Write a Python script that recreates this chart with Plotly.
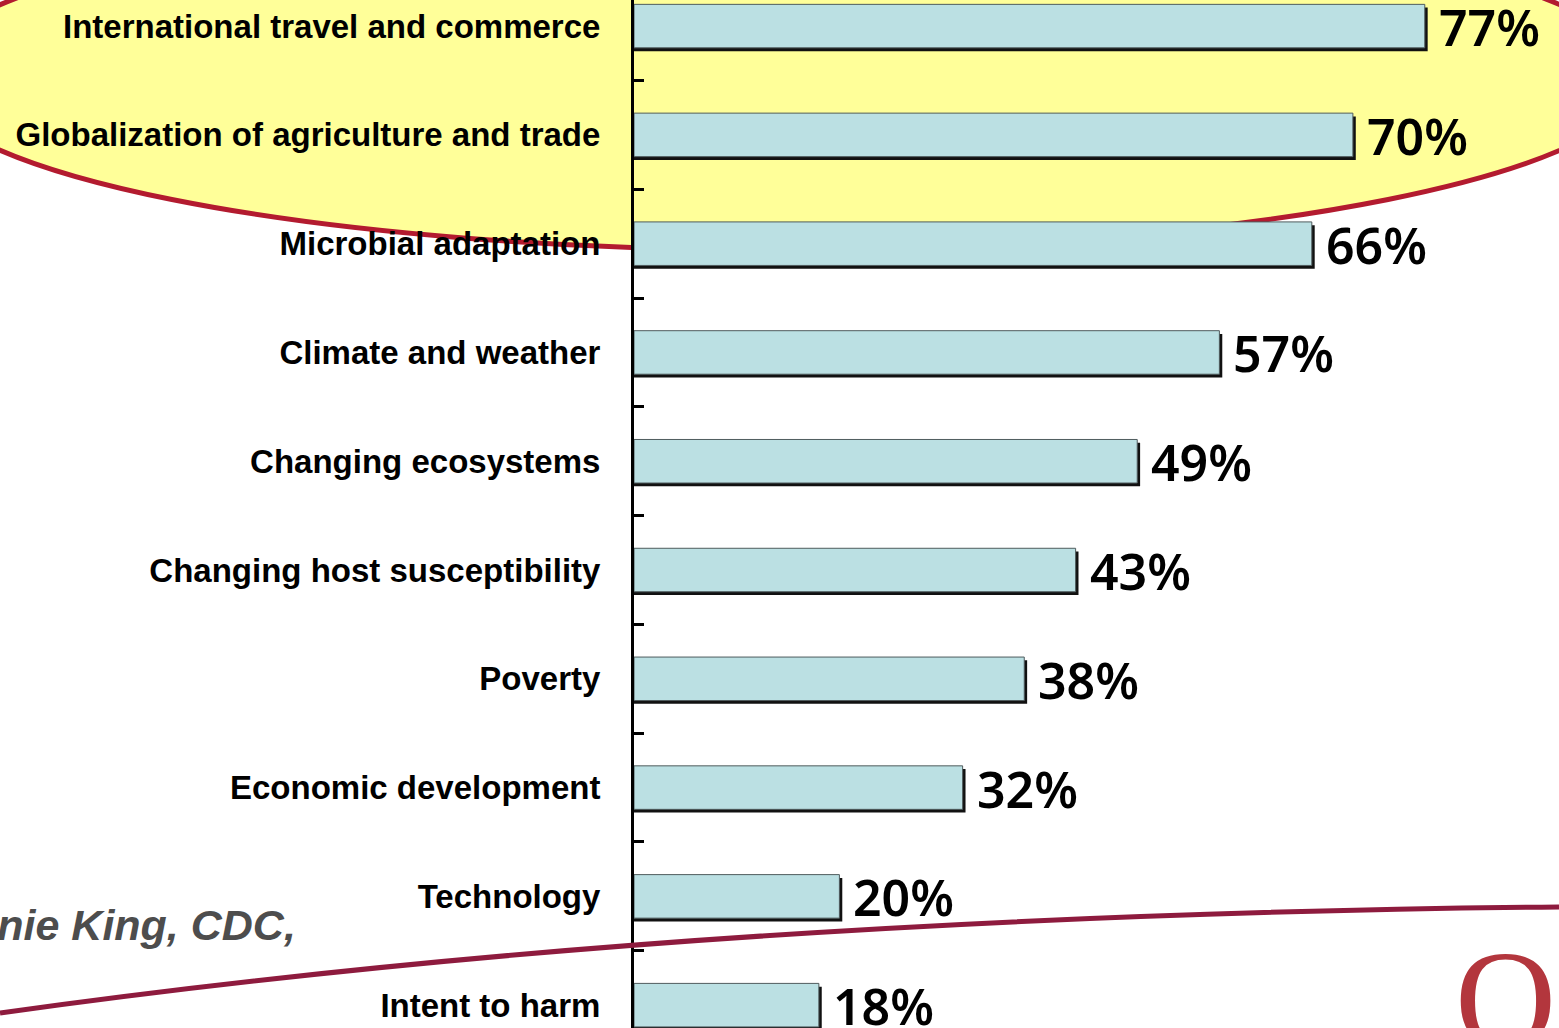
import plotly.graph_objects as go

categories = [
    "International travel and commerce",
    "Globalization of agriculture and trade",
    "Microbial adaptation",
    "Climate and weather",
    "Changing ecosystems",
    "Changing host susceptibility",
    "Poverty",
    "Economic development",
    "Technology",
    "Intent to harm",
]
values = [77, 70, 66, 57, 49, 43, 38, 32, 20, 18]
value_labels = [f"{v}%" for v in values]
credit_text = "nnie King, CDC,"
logo_text = "O"

W, H = 1559, 1028
L = 634
XMAX = (W - L) / 10.27


def px(x):
    return (x - L) / (W - L)


def py(y):
    return 1 - y / H


fig = go.Figure()

# shadow bars
fig.add_trace(go.Bar(
    y=categories, x=[v + 0.28 for v in values], orientation="h",
    width=0.4, offset=-0.2 + 0.03,
    marker=dict(color="#111111", line=dict(width=0)),
    hoverinfo="skip", showlegend=False,
))
# main bars
fig.add_trace(go.Bar(
    y=categories, x=values, orientation="h",
    width=0.4, offset=-0.2,
    marker=dict(color="#BBE0E3", line=dict(color="#4f5b5d", width=1)),
    showlegend=False,
))

annotations = []
for c, v, t in zip(categories, values, value_labels):
    annotations.append(dict(
        x=v, y=c, xref="x", yref="y", text=t, showarrow=False,
        xanchor="left", yanchor="middle", xshift=12, yshift=-1,
        font=dict(family="Noto Sans, DejaVu Sans", size=50, color="black", weight=600),
    ))

annotations.append(dict(
    x=px(298), y=py(925), xref="paper", yref="paper", text=f"<i><b>{credit_text}</b></i>",
    showarrow=False, xanchor="right", yanchor="middle",
    font=dict(family="Liberation Sans, Arial", size=43, color="#4D4D4D"),
))
annotations.append(dict(
    x=px(1505), y=py(999), xref="paper", yref="paper", text=logo_text,
    showarrow=False, xanchor="center", yanchor="middle",
    font=dict(family="Liberation Serif, DejaVu Serif", size=140, color="#B3363D"),
))

shapes = [
    dict(type="circle", xref="paper", yref="paper",
         x0=px(-80), x1=px(1640), y0=py(-95), y1=py(250),
         fillcolor="#FFFF99", line=dict(color="#B31B2F", width=5), layer="below"),
    dict(type="path", xref="paper", yref="paper",
         path=f"M {px(0)},{py(1013)} Q {px(700)},{py(915)} {px(1559)},{py(907)}",
         line=dict(color="#8E1B3E", width=5), layer="above"),
]

fig.update_layout(
    width=W, height=H,
    margin=dict(l=L, r=0, t=0, b=0, pad=0),
    paper_bgcolor="white",
    plot_bgcolor="rgba(0,0,0,0)",
    barmode="overlay",
    showlegend=False,
    hovermode=False,
    annotations=annotations,
    shapes=shapes,
    xaxis=dict(range=[0, XMAX], visible=False, showgrid=False, zeroline=False),
    yaxis=dict(
        type="category", categoryorder="array", categoryarray=categories,
        range=[9.21, -0.24],
        tickson="boundaries", ticks="inside", ticklen=10, tickwidth=3, tickcolor="black",
        showline=True, linecolor="black", linewidth=3, layer="below traces",
        showgrid=False, zeroline=False,
        ticklabelstandoff=24,
        tickfont=dict(family="Liberation Sans, Arial", size=33, color="black", weight="bold"),
    ),
)

fig.write_html(
    "out.html",
    config={"displayModeBar": False, "staticPlot": True},
    post_script="document.body.style.margin='0';document.body.style.overflow='hidden';",
)
